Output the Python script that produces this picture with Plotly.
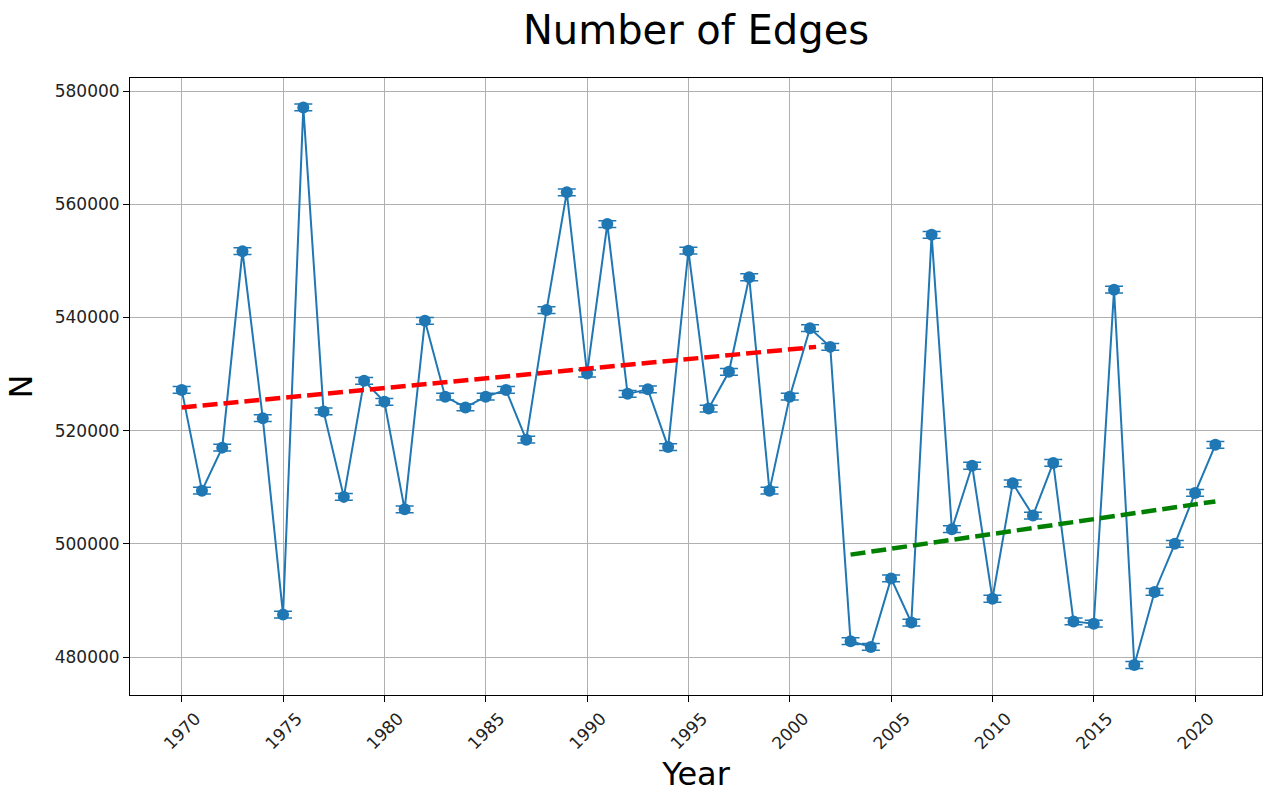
import plotly.graph_objects as go

years = list(range(1970, 2022))
edges = [
    527200, 509400, 517000, 551700, 522200, 487500, 577100, 523400, 508300, 528800,
    525100, 506100, 539400, 526000, 524100, 526000, 527200, 518400, 541300, 562100,
    530100, 556500, 526500, 527300, 517100, 551800, 523900, 530400, 547100, 509400,
    526000, 538100, 534800, 482800, 481800, 493900, 486100, 554600, 502600, 513800,
    490300, 510700, 505000, 514300, 486300, 485900, 544900, 478600, 491500, 500000,
    509000, 517500,
]
edge_err = [600] * len(years)

trend1_x = [1970, 2001.3]
trend1_y = [524100, 534800]
trend2_x = [2003, 2021]
trend2_y = [498100, 507500]

xticks = list(range(1970, 2021, 5))
yticks = list(range(480000, 580001, 20000))

blue = "#1f77b4"
fig = go.Figure()
fig.add_trace(go.Scatter(
    x=years, y=edges, mode="lines+markers",
    line=dict(color=blue, width=2),
    marker=dict(color=blue, size=12, symbol="circle"),
    error_y=dict(type="data", array=edge_err, visible=True, color=blue, thickness=1.5, width=9),
    showlegend=False,
))
fig.add_trace(go.Scatter(
    x=trend1_x, y=trend1_y, mode="lines",
    line=dict(color="red", width=4.5, dash="15px,6px"), showlegend=False,
))
fig.add_trace(go.Scatter(
    x=trend2_x, y=trend2_y, mode="lines",
    line=dict(color="green", width=4.5, dash="15px,6px"), showlegend=False,
))

font = "DejaVu Sans"
fig.update_layout(
    width=1263, height=793,
    margin=dict(l=130, r=1, t=78, b=98),
    paper_bgcolor="white", plot_bgcolor="white",
    font=dict(family=font, color="black", size=18),
    title=dict(text="Number of Edges", x=0.5, xref="paper", xanchor="center",
               y=1 - 30 / 793, yanchor="middle", yref="container",
               font=dict(size=40, family=font, color="black")),
)
fig.update_xaxes(
    range=[1967.45, 2023.3], tickvals=xticks, ticktext=[str(t) for t in xticks],
    tickangle=-45, ticklabelshift=14, ticks="outside", ticklen=6, tickcolor="black",
    showgrid=True, gridcolor="#b0b0b0", gridwidth=1,
    showline=True, linecolor="black", linewidth=1, mirror=True, zeroline=False,
    automargin=False,
    title=dict(text="Year", font=dict(size=32, family=font, color="black"), standoff=14),
    tickfont=dict(size=17, color="#222"),
)
fig.update_yaxes(
    range=[473300, 582300], tickvals=yticks, ticktext=[str(t) for t in yticks],
    ticks="outside", ticklen=6, tickcolor="black",
    showgrid=True, gridcolor="#b0b0b0", gridwidth=1,
    showline=True, linecolor="black", linewidth=1, mirror=True, zeroline=False,
    automargin=False,
    title=dict(text="N", font=dict(size=32, family=font, color="black"), standoff=12),
    tickfont=dict(size=17, color="#222"),
)

fig.write_html(
    "out.html",
    config={"displayModeBar": False},
    post_script="document.body.style.margin='0';document.body.style.overflow='hidden';",
)
